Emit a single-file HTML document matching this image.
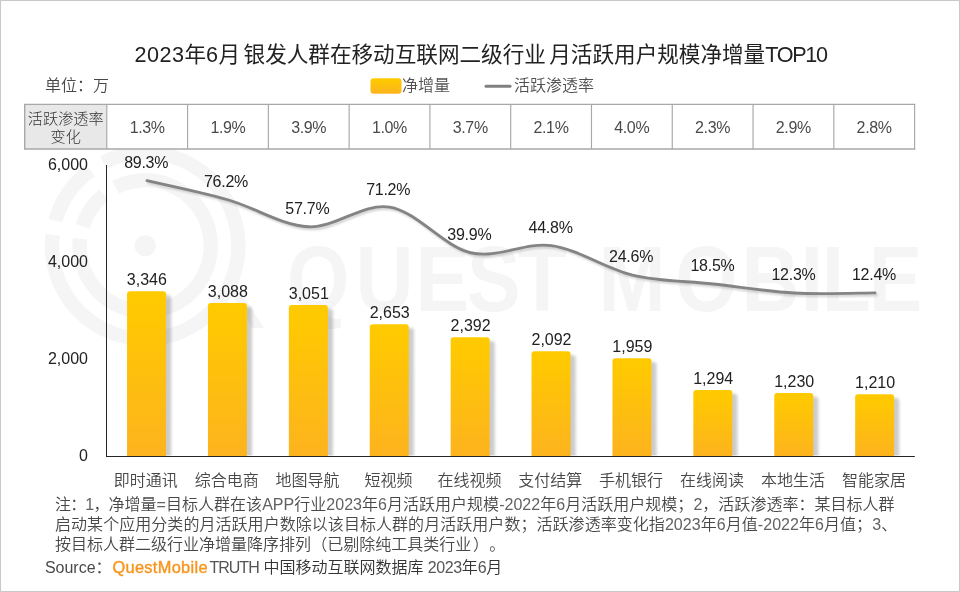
<!DOCTYPE html>
<html lang="zh-CN">
<head>
<meta charset="utf-8">
<title>2023年6月 银发人群在移动互联网二级行业 月活跃用户规模净增量TOP10</title>
<style>
html,body{margin:0;padding:0;background:#fff;}
body{width:960px;height:592px;overflow:hidden;position:relative;font-family:"Liberation Sans","Noto Sans CJK SC",sans-serif;}
#chart{position:absolute;left:0;top:0;width:960px;height:592px;box-sizing:border-box;border:1px solid #c8c8c8;background:#fff;overflow:hidden;}
#chart>*{position:absolute;}
.gfx{left:-1px;top:-1px;}
.t{white-space:nowrap;line-height:1;margin:0;}
.c{transform:translateX(-50%);text-align:center;}
h1.title{font-weight:400;font-size:21.6px;color:#222;left:479.6px;top:43.3px;letter-spacing:0px;word-spacing:-2.6px;}
h1.title span{letter-spacing:0.49px;}
h1.title span.tp{letter-spacing:-1.3px;}
.unit{font-size:16px;color:#484848;font-weight:350;left:44px;top:77px;}
.leg{font-size:16px;color:#505050;font-weight:350;top:77px;}
table.chg{left:23.7px;top:103.5px;border-collapse:collapse;border-spacing:0;table-layout:fixed;width:889.9px;height:44.4px;}
table.chg td,table.chg th{border:0;height:44.4px;padding:3.6px 0 0 0;box-sizing:border-box;text-align:center;vertical-align:middle;font-weight:400;font-size:16px;letter-spacing:-0.35px;color:#4a4a4a;font-family:"Liberation Sans","Noto Sans CJK SC",sans-serif;}
table.chg th{font-size:15.2px;line-height:18px;font-weight:300;color:#333;width:82.1px;padding-top:2.3px;letter-spacing:0;}
.yl{font-size:16px;color:#222;width:60px;text-align:right;left:27px;}
.dl{font-size:16px;color:#222;}
.pl{letter-spacing:-0.25px;}
.cat{font-size:16px;color:#484848;font-weight:350;top:472px;}
.note{left:54px;top:494px;width:860px;font-size:16px;line-height:19.8px;color:#484848;font-weight:350;margin:0;white-space:nowrap;}
.note i{font-style:normal;color:#626262;}
.n1{letter-spacing:0.025px;}
.np{letter-spacing:-0.85px;}
.n2{letter-spacing:0.05px;}
.n3{letter-spacing:0;}
.pp{margin-left:0.3px;}
.pq{margin-left:1.6px;margin-right:8.2px;}
.src{left:43.9px;top:558.4px;font-size:16px;color:#4a4a4a;height:17px;width:470px;}
.src span,.src b{position:absolute;top:0;white-space:nowrap;line-height:17px;}
.src b{left:67.6px;color:#f8951d;font-weight:400;font-size:16.4px;letter-spacing:0.3px;-webkit-text-stroke:0.4px #f8951d;}
.src .s2{left:164.6px;letter-spacing:-1px;color:#555;}
.src .s3{left:218.5px;font-weight:350;color:#333;}
.src .s3 i{font-style:normal;font-weight:400;color:#555;letter-spacing:-0.4px;}
</style>
</head>
<body>
<div id="chart">
<svg class="gfx" width="960" height="592" viewBox="0 0 960 592">
<defs>
<linearGradient id="bg" x1="0" y1="0" x2="0" y2="1"><stop offset="0" stop-color="#ffca00"/><stop offset="0.12" stop-color="#ffc802"/><stop offset="1" stop-color="#fdb31e"/></linearGradient>
<filter id="sh" x="-50%" y="-20%" width="220%" height="140%"><feGaussianBlur stdDeviation="1.6"/></filter>
<filter id="sh2" x="-10%" y="-50%" width="120%" height="200%"><feGaussianBlur stdDeviation="1.2"/></filter>
</defs>
<g fill="none" stroke="#f5f5f5" stroke-width="14.3">
<path d="M103.32,162.54 A93.20,93.20 0 1 1 52.64,234.93 M55.48,220.58 A93.20,93.20 0 0 1 90.42,170.40"/>
<path d="M115.52,187.30 A65.60,65.60 0 1 1 79.98,238.72 M82.64,226.07 A65.60,65.60 0 0 1 103.92,194.82"/>
</g>
<circle cx="145.2" cy="245.8" r="10.6" fill="#f5f5f5"/>
<path d="M225,285 L236.8,285 L264,328.1 L252.2,328.1 Z" fill="#f5f5f5"/>
<text transform="scale(0.86,1)" y="311" x="333.7 413.5 483.4 543.1 602.1" font-family="'Liberation Sans',sans-serif" font-weight="bold" font-size="93.3" fill="#f5f5f5">QUEST</text>
<text transform="scale(0.86,1)" y="311" x="696.1 785.2 862.2 931.2 955.6 1010.3" font-family="'Liberation Sans',sans-serif" font-weight="bold" font-size="93.3" fill="#f5f5f5">MOBILE</text>
<rect x="24.7" y="104.4" width="889.9" height="44.6" fill="#fff"/>
<clipPath id="pc"><rect x="100" y="160" width="830" height="295.6"/></clipPath>
<g clip-path="url(#pc)">
<rect x="132.65" y="295.05" width="38.50" height="168.25" rx="3" fill="#000004" opacity="0.2" filter="url(#sh)"/>
<rect x="213.55" y="306.80" width="38.50" height="156.50" rx="3" fill="#000004" opacity="0.2" filter="url(#sh)"/>
<rect x="294.45" y="308.80" width="38.50" height="154.50" rx="3" fill="#000004" opacity="0.2" filter="url(#sh)"/>
<rect x="375.35" y="328.05" width="38.50" height="135.25" rx="3" fill="#000004" opacity="0.2" filter="url(#sh)"/>
<rect x="456.25" y="341.05" width="38.50" height="122.25" rx="3" fill="#000004" opacity="0.2" filter="url(#sh)"/>
<rect x="537.15" y="355.05" width="38.50" height="108.25" rx="3" fill="#000004" opacity="0.2" filter="url(#sh)"/>
<rect x="618.05" y="362.05" width="38.50" height="101.25" rx="3" fill="#000004" opacity="0.2" filter="url(#sh)"/>
<rect x="698.95" y="393.80" width="38.50" height="69.50" rx="3" fill="#000004" opacity="0.2" filter="url(#sh)"/>
<rect x="779.85" y="396.80" width="38.50" height="66.50" rx="3" fill="#000004" opacity="0.2" filter="url(#sh)"/>
<rect x="860.75" y="398.05" width="38.50" height="65.25" rx="3" fill="#000004" opacity="0.2" filter="url(#sh)"/>
</g>
<path d="M127.05,456.50 v-162.25 a3,3 0 0 1 3,-3 h33.00 a3,3 0 0 1 3,3 v162.25 z" fill="url(#bg)"/>
<path d="M207.95,456.50 v-150.50 a3,3 0 0 1 3,-3 h33.00 a3,3 0 0 1 3,3 v150.50 z" fill="url(#bg)"/>
<path d="M288.85,456.50 v-148.50 a3,3 0 0 1 3,-3 h33.00 a3,3 0 0 1 3,3 v148.50 z" fill="url(#bg)"/>
<path d="M369.75,456.50 v-129.25 a3,3 0 0 1 3,-3 h33.00 a3,3 0 0 1 3,3 v129.25 z" fill="url(#bg)"/>
<path d="M450.65,456.50 v-116.25 a3,3 0 0 1 3,-3 h33.00 a3,3 0 0 1 3,3 v116.25 z" fill="url(#bg)"/>
<path d="M531.55,456.50 v-102.25 a3,3 0 0 1 3,-3 h33.00 a3,3 0 0 1 3,3 v102.25 z" fill="url(#bg)"/>
<path d="M612.45,456.50 v-95.25 a3,3 0 0 1 3,-3 h33.00 a3,3 0 0 1 3,3 v95.25 z" fill="url(#bg)"/>
<path d="M693.35,456.50 v-63.50 a3,3 0 0 1 3,-3 h33.00 a3,3 0 0 1 3,3 v63.50 z" fill="url(#bg)"/>
<path d="M774.25,456.50 v-60.50 a3,3 0 0 1 3,-3 h33.00 a3,3 0 0 1 3,3 v60.50 z" fill="url(#bg)"/>
<path d="M855.15,456.50 v-59.25 a3,3 0 0 1 3,-3 h33.00 a3,3 0 0 1 3,3 v59.25 z" fill="url(#bg)"/>
<rect x="106" y="165" width="1" height="292" fill="#232529"/>
<rect x="106" y="456" width="808.8" height="1" fill="#232529"/>
<path d="M146.95,180.62 C160.43,183.81 200.88,192.06 227.85,199.75 C254.82,207.44 281.78,225.54 308.75,226.76 C335.72,227.97 362.68,202.72 389.65,207.05 C416.62,211.38 443.58,246.32 470.55,252.75 C497.52,259.17 524.48,241.87 551.45,245.59 C578.42,249.31 605.38,268.68 632.35,275.08 C659.32,281.48 686.28,281.00 713.25,283.99 C740.22,286.98 767.18,291.56 794.15,293.04 C821.12,294.53 861.57,292.92 875.05,292.90" fill="none" stroke="#999" stroke-width="2.5" opacity="0.5" transform="translate(1.5,2)" filter="url(#sh2)" stroke-linecap="round"/>
<path d="M146.95,180.62 C160.43,183.81 200.88,192.06 227.85,199.75 C254.82,207.44 281.78,225.54 308.75,226.76 C335.72,227.97 362.68,202.72 389.65,207.05 C416.62,211.38 443.58,246.32 470.55,252.75 C497.52,259.17 524.48,241.87 551.45,245.59 C578.42,249.31 605.38,268.68 632.35,275.08 C659.32,281.48 686.28,281.00 713.25,283.99 C740.22,286.98 767.18,291.56 794.15,293.04 C821.12,294.53 861.57,292.92 875.05,292.90" fill="none" stroke="#848484" stroke-width="2.85" stroke-linecap="round"/>
<rect x="24.7" y="104.5" width="82.1" height="44.4" fill="#e8e8e8"/>
<g stroke="#a8a8a8" stroke-width="1.4" fill="none">
<path d="M24,104.4 H915.3 M24,149 H915.3"/>
<path d="M24.7,104.4 V149"/>
<path stroke-width="1.15" d="M106.80,104.5 V148.9 M187.58,104.5 V148.9 M268.36,104.5 V148.9 M349.14,104.5 V148.9 M429.92,104.5 V148.9 M510.70,104.5 V148.9 M591.48,104.5 V148.9 M672.26,104.5 V148.9 M753.04,104.5 V148.9 M833.82,104.5 V148.9 M914.60,104.5 V148.9"/>
</g>
<rect x="370.5" y="78.2" width="31" height="15.6" rx="3" fill="url(#bg)"/>
<rect x="484.5" y="84.8" width="27" height="3" rx="1.5" fill="#808080"/>
</svg>
<h1 class="t c title"><span>2023</span>年<span>6</span>月 银发人群在移动互联网二级行业 月活跃用户规模净增量<span class="tp">TOP10</span></h1>
<div class="t unit">单位：万</div>
<div class="t leg" style="left:401px">净增量</div>
<div class="t leg" style="left:513px">活跃渗透率</div>
<table class="chg"><tr><th>活跃渗透率<br>变化</th><td>1.3%</td><td>1.9%</td><td>3.9%</td><td>1.0%</td><td>3.7%</td><td>2.1%</td><td>4.0%</td><td>2.3%</td><td>2.9%</td><td>2.8%</td></tr></table>
<div class="t yl" style="top:155.5px">6,000</div>
<div class="t yl" style="top:252.5px">4,000</div>
<div class="t yl" style="top:349.5px">2,000</div>
<div class="t yl" style="top:446.5px">0</div>
<div class="t c dl" style="left:145.9px;top:271.0px">3,346</div>
<div class="t c dl" style="left:226.9px;top:282.8px">3,088</div>
<div class="t c dl" style="left:307.8px;top:284.8px">3,051</div>
<div class="t c dl" style="left:388.7px;top:304.0px">2,653</div>
<div class="t c dl" style="left:469.6px;top:317.0px">2,392</div>
<div class="t c dl" style="left:550.5px;top:331.0px">2,092</div>
<div class="t c dl" style="left:631.4px;top:338.0px">1,959</div>
<div class="t c dl" style="left:712.2px;top:369.8px">1,294</div>
<div class="t c dl" style="left:793.2px;top:372.8px">1,230</div>
<div class="t c dl" style="left:874.1px;top:374.0px">1,210</div>
<div class="t c dl pl" style="left:145.2px;top:153.8px">89.3%</div>
<div class="t c dl pl" style="left:225.0px;top:173.0px">76.2%</div>
<div class="t c dl pl" style="left:306.3px;top:200.0px">57.7%</div>
<div class="t c dl pl" style="left:387.2px;top:181.0px">71.2%</div>
<div class="t c dl pl" style="left:468.3px;top:225.8px">39.9%</div>
<div class="t c dl pl" style="left:549.6px;top:219.0px">44.8%</div>
<div class="t c dl pl" style="left:630.1px;top:248.0px">24.6%</div>
<div class="t c dl pl" style="left:711.5px;top:257.0px">18.5%</div>
<div class="t c dl pl" style="left:792.5px;top:266.0px">12.3%</div>
<div class="t c dl pl" style="left:873.0px;top:266.0px">12.4%</div>
<div class="t c cat" style="left:144.8px">即时通讯</div>
<div class="t c cat" style="left:225.7px">综合电商</div>
<div class="t c cat" style="left:306.6px">地图导航</div>
<div class="t c cat" style="left:387.5px">短视频</div>
<div class="t c cat" style="left:468.4px">在线视频</div>
<div class="t c cat" style="left:549.2px">支付结算</div>
<div class="t c cat" style="left:630.1px">手机银行</div>
<div class="t c cat" style="left:711.0px">在线阅读</div>
<div class="t c cat" style="left:792.0px">本地生活</div>
<div class="t c cat" style="left:872.9px">智能家居</div>
<p class="note"><span class="n1"><span class="np">注：<i>1</i>，</span>净增量<i>=</i>目标人群在该<i>APP</i>行业<i>2023</i>年<i>6</i>月活跃用户规模<i>-2022</i>年<i>6</i>月活跃用户规模；<i>2</i>，活跃渗透率：某目标人群</span><br><span class="n2">启动某个应用分类的月活跃用户数除以该目标人群的月活跃用户数；活跃渗透率变化指<i>2023</i>年<i>6</i>月值<i>-2022</i>年<i>6</i>月值；<i>3</i>、</span><br><span class="n3">按目标人群二级行业净增量降序排列<span class="pp">（</span>已剔除纯工具类行业<span class="pq">）</span>。</span></p>
<div class="t src"><span class="s1">Source：</span> <b>QuestMobile</b> <span class="s2">TRUTH</span> <span class="s3">中国移动互联网数据库 <i>2023</i>年<i>6</i>月</span></div>
</div>
</body>
</html>
